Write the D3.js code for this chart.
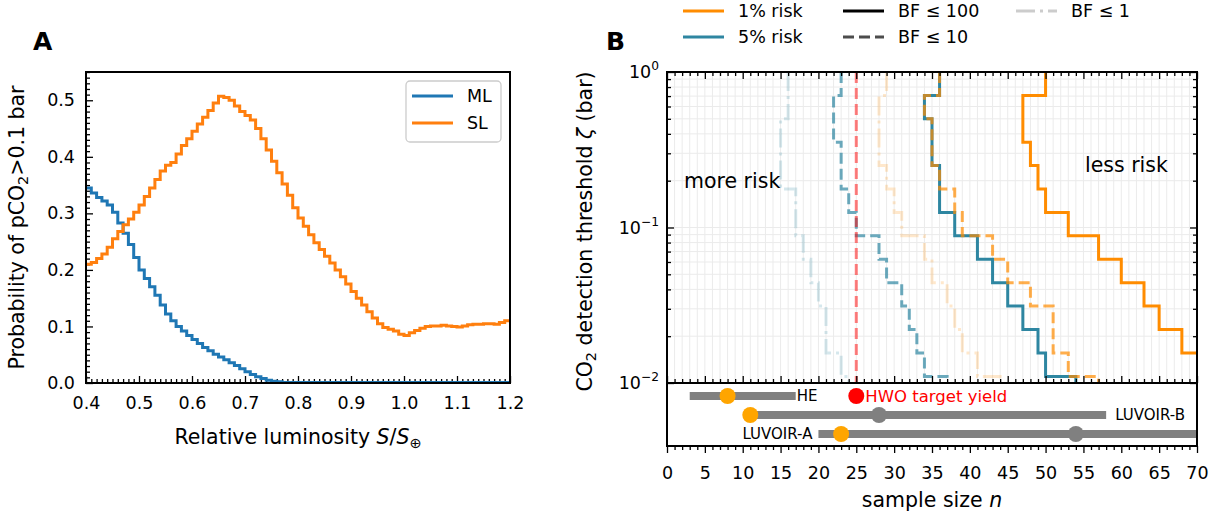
<!DOCTYPE html>
<html>
<head>
<meta charset="utf-8">
<script src="https://cdn.jsdelivr.net/npm/d3@7"></script>
<style>
  body { margin: 0; background: #fff; }
  svg { font-family: "DejaVu Sans", sans-serif; }
</style>
</head>
<body>
<svg id="chart" width="1223" height="522"></svg>
<script>
// ---------- panel A data (bins of 0.01 in S/S_earth, starting at 0.40) ----------
const lumStart = 0.40, lumStep = 0.01;
const probML = [
  0.345, 0.336, 0.328, 0.322, 0.315, 0.302, 0.283, 0.265, 0.245, 0.222,
  0.200, 0.185, 0.170, 0.155, 0.138, 0.122, 0.110, 0.100, 0.092, 0.084,
  0.077, 0.070, 0.063, 0.057, 0.051, 0.046, 0.041, 0.036, 0.031, 0.025,
  0.020, 0.015, 0.011, 0.008, 0.005, 0.003, 0.002, 0.001, 0.001, 0.001,
  0.001, 0.001, 0.001, 0.001, 0.001, 0.001, 0.001, 0.001, 0.001, 0.001,
  0.001, 0.001, 0.001, 0.001, 0.001, 0.001, 0.001, 0.001, 0.001, 0.001,
  0.001, 0.001, 0.001, 0.001, 0.001, 0.001, 0.001, 0.001, 0.001, 0.001,
  0.001, 0.001, 0.001, 0.001, 0.001, 0.001, 0.001, 0.001, 0.001, 0.001
];
const probSL = [
  0.210, 0.213, 0.220, 0.228, 0.240, 0.255, 0.268, 0.280, 0.290, 0.302,
  0.315, 0.330, 0.345, 0.360, 0.375, 0.385, 0.390, 0.405, 0.420, 0.432,
  0.445, 0.458, 0.470, 0.482, 0.495, 0.507, 0.505, 0.500, 0.490, 0.480,
  0.473, 0.465, 0.450, 0.432, 0.412, 0.392, 0.372, 0.352, 0.332, 0.310,
  0.292, 0.277, 0.262, 0.248, 0.236, 0.224, 0.212, 0.200, 0.188, 0.175,
  0.162, 0.150, 0.138, 0.126, 0.115, 0.105, 0.098, 0.095, 0.092, 0.086,
  0.084, 0.089, 0.093, 0.097, 0.100, 0.101, 0.101, 0.102, 0.101, 0.100,
  0.099, 0.101, 0.103, 0.104, 0.104, 0.105, 0.105, 0.104, 0.107, 0.110
];
const seriesA = [["ML", "#1f77b4", probML], ["SL", "#ff7f0e", probSL]];
const xTicksA = [0.4, 0.5, 0.6, 0.7, 0.8, 0.9, 1.0, 1.1, 1.2];
const yTicksA = [0.0, 0.1, 0.2, 0.3, 0.4, 0.5];

// ---------- panel B data ----------
const zetaLevels = [1.0, 0.707, 0.5, 0.354, 0.25, 0.177, 0.125, 0.0884, 0.0625, 0.0442, 0.0313, 0.0221, 0.0156, 0.011, 0.0078];
const nRisk1BF100 = [50, 47, 47, 48, 49, 50, 53, 57, 60, 63, 65, 68, 72, 75, 78];
const nRisk1BF10  = [36, 34, 35, 35, 36, 38, 39, 43, 45, 48, 51, 51, 53, 57, 60];
const nRisk1BF1   = [29, 28, 28, 28, 29, 30, 31, 34, 35, 37, 38, 39, 41, 44, 46];
const nRisk5BF100 = [36, 34, 35, 35, 36, 36, 38, 41, 43, 45, 47, 49, 50, 54, 58];
const nRisk5BF10  = [23, 22, 22, 23, 23, 24, 25, 28, 29, 31, 32, 33, 34, 37, 38];
const nRisk5BF1   = [16, 16, 15, 15, 15, 17, 17, 18, 19, 20, 21, 21, 23, 24, 25];
const hwoTarget = 25;

const missions = ["HE", "LUVOIR-B", "LUVOIR-A"];
const missionRange = [[3, 17], [11, 58], [20, 75]];
const missionOrange = [8, 11, 23];
const missionGray = [null, 28, 54];

const ORANGE = "#ff8c00", TEAL = "#2e86a1";
const styles = {
  solid:   { dash: null, opacity: 1 },
  dashed:  { dash: "11,5", opacity: 0.7 },
  dashdot: { dash: "19,5,3,5", opacity: 0.2 }
};
// drawing order: faint first, solid, then orange dashed on top
const curvesB = [
  [nRisk5BF1, TEAL, "dashdot"],
  [nRisk1BF1, ORANGE, "dashdot"],
  [nRisk5BF10, TEAL, "dashed"],
  [nRisk5BF100, TEAL, "solid"],
  [nRisk1BF100, ORANGE, "solid"],
  [nRisk1BF10, ORANGE, "dashed"]
];

const svg = d3.select("#chart");
const TICK = 17.5, LABEL = 20.5;

function cleanAxis(sel) {
  sel.select(".domain").remove();
  sel.selectAll(".tick line").attr("stroke-width", 1.3);
  sel.selectAll(".tick text").attr("font-size", TICK).attr("fill", "#000");
  sel.attr("font-family", null);
}

// ================= PANEL A =================
const A = { l: 86, r: 510, t: 72, b: 383 };
const xA = d3.scaleLinear().domain([0.4, 1.2]).range([A.l, A.r]);
const yA = d3.scaleLinear().domain([0, 0.55]).range([A.b, A.t]);
const gA = svg.append("g");

const minorA_x = d3.range(40, 121).filter(d => d % 10 !== 0).map(d => d / 100);
const minorA_y = d3.range(0, 56).filter(d => d % 10 !== 0).map(d => d / 100);

gA.append("g").attr("transform", `translate(0,${A.b})`)
  .call(d3.axisBottom(xA).tickValues(xTicksA).tickFormat(d3.format(".1f")).tickSize(-7).tickPadding(14))
  .call(cleanAxis);
gA.append("g").attr("transform", `translate(0,${A.b})`)
  .call(d3.axisBottom(xA).tickValues(minorA_x).tickFormat("").tickSize(-4))
  .call(cleanAxis);
gA.append("g").attr("transform", `translate(${A.l},0)`)
  .call(d3.axisLeft(yA).tickValues(yTicksA).tickFormat(d3.format(".1f")).tickSize(-7).tickPadding(11))
  .call(cleanAxis);
gA.append("g").attr("transform", `translate(${A.l},0)`)
  .call(d3.axisLeft(yA).tickValues(minorA_y).tickFormat("").tickSize(-4))
  .call(cleanAxis);

const lineA = d3.line().x(d => xA(d[0])).y(d => yA(d[1])).curve(d3.curveStepAfter);
seriesA.forEach(([name, color, vals]) => {
  const pts = vals.map((v, i) => [lumStart + i * lumStep, v]);
  pts.push([lumStart + vals.length * lumStep, vals[vals.length - 1]]);
  gA.append("path").datum(pts).attr("d", lineA)
    .attr("fill", "none").attr("stroke", color).attr("stroke-width", 3);
});

gA.append("rect").attr("x", A.l).attr("y", A.t).attr("width", A.r - A.l).attr("height", A.b - A.t)
  .attr("fill", "none").attr("stroke", "#000").attr("stroke-width", 2);

// legend A
const legA = gA.append("g").attr("transform", "translate(406,81)");
legA.append("rect").attr("width", 95).attr("height", 61).attr("rx", 4)
  .attr("fill", "#fff").attr("fill-opacity", 0.8).attr("stroke", "#ccc").attr("stroke-width", 1.3);
seriesA.forEach(([name, color], i) => {
  const y = 15 + i * 27;
  legA.append("line").attr("x1", 6).attr("x2", 47).attr("y1", y).attr("y2", y)
    .attr("stroke", color).attr("stroke-width", 3);
  legA.append("text").attr("x", 61).attr("y", y).attr("dy", "0.36em")
    .attr("font-size", TICK).text(name);
});

// labels A
const xlabA = gA.append("text").attr("x", (A.l + A.r) / 2).attr("y", 444)
  .attr("text-anchor", "middle").attr("font-size", LABEL);
xlabA.append("tspan").text("Relative luminosity ");
xlabA.append("tspan").attr("font-style", "italic").text("S");
xlabA.append("tspan").text("/");
xlabA.append("tspan").attr("font-style", "italic").text("S");
xlabA.append("tspan").attr("font-size", LABEL * 0.7).attr("dy", 4).text("⊕");

const ylabA = gA.append("text").attr("transform", `translate(24,${(A.t + A.b) / 2}) rotate(-90)`)
  .attr("text-anchor", "middle").attr("font-size", LABEL);
ylabA.append("tspan").text("Probability of pCO");
ylabA.append("tspan").attr("font-size", LABEL * 0.7).attr("dy", 4).text("2");
ylabA.append("tspan").attr("dy", -4).text(">0.1 bar");

svg.append("text").attr("x", 33).attr("y", 50).attr("font-size", 25).attr("font-weight", "bold").text("A");

// ================= PANEL B =================
const B = { l: 667, r: 1197, t: 72, b: 383, sb: 446 };
const xB = d3.scaleLinear().domain([0, 70]).range([B.l, B.r]);
const yB = d3.scaleLog().domain([0.01, 1]).range([B.b, B.t]);
const gB = svg.append("g");

svg.append("defs").append("clipPath").attr("id", "clipB")
  .append("rect").attr("x", B.l).attr("y", B.t).attr("width", B.r - B.l).attr("height", B.b - B.t);
svg.select("defs").append("clipPath").attr("id", "clipS")
  .append("rect").attr("x", B.l).attr("y", B.b).attr("width", B.r - B.l).attr("height", B.sb - B.b);

const xMajorB = d3.range(0, 71, 5);
const xMinorB = d3.range(0, 71, 1).filter(d => d % 5 !== 0);
const yMajorB = [0.01, 0.1, 1];
const yMinorB = [2, 3, 4, 5, 6, 7, 8, 9].flatMap(m => [m * 0.01, m * 0.1]);

// grid
const grid = gB.append("g").attr("stroke", "#ebebeb").attr("stroke-width", 1);
grid.selectAll("line.v").data(d3.range(1, 70)).join("line")
  .attr("x1", d => xB(d)).attr("x2", d => xB(d)).attr("y1", B.t).attr("y2", B.b);
grid.selectAll("line.h").data(yMinorB.concat([0.1])).join("line")
  .attr("x1", B.l).attr("x2", B.r).attr("y1", d => yB(d)).attr("y2", d => yB(d));

// curves
const lineB = d3.line().x(d => xB(d[0])).y(d => yB(d[1])).curve(d3.curveStepBefore);
const gCurves = gB.append("g").attr("clip-path", "url(#clipB)");
curvesB.forEach(([vals, color, kind]) => {
  const st = styles[kind];
  gCurves.append("path").datum(vals.map((n, i) => [n, zetaLevels[i]])).attr("d", lineB)
    .attr("fill", "none").attr("stroke", color).attr("stroke-width", 3)
    .attr("stroke-opacity", st.opacity).attr("stroke-dasharray", st.dash);
});
gCurves.append("line").attr("x1", xB(hwoTarget)).attr("x2", xB(hwoTarget)).attr("y1", B.t).attr("y2", B.b)
  .attr("stroke", "red").attr("stroke-opacity", 0.5).attr("stroke-width", 3).attr("stroke-dasharray", "11,5");

// annotations
gB.append("text").attr("x", 684).attr("y", 188).attr("font-size", LABEL).text("more risk");
gB.append("text").attr("x", 1085).attr("y", 172).attr("font-size", LABEL).text("less risk");

// axes main panel B (ticks pointing inward on all sides)
[B.b, B.t].forEach(y => {
  const fn = y === B.b ? d3.axisBottom : d3.axisTop;
  gB.append("g").attr("transform", `translate(0,${y})`)
    .call(fn(xB).tickValues(xMajorB).tickFormat("").tickSize(-7)).call(cleanAxis);
  gB.append("g").attr("transform", `translate(0,${y})`)
    .call(fn(xB).tickValues(xMinorB).tickFormat("").tickSize(-4)).call(cleanAxis);
});
gB.append("g").attr("transform", `translate(${B.l},0)`)
  .call(d3.axisLeft(yB).tickValues(yMajorB).tickFormat("").tickSize(-7)).call(cleanAxis);
gB.append("g").attr("transform", `translate(${B.l},0)`)
  .call(d3.axisLeft(yB).tickValues(yMinorB).tickFormat("").tickSize(-4)).call(cleanAxis);
gB.append("g").attr("transform", `translate(${B.r},0)`)
  .call(d3.axisRight(yB).tickValues(yMajorB).tickFormat("").tickSize(-7)).call(cleanAxis);
gB.append("g").attr("transform", `translate(${B.r},0)`)
  .call(d3.axisRight(yB).tickValues(yMinorB).tickFormat("").tickSize(-4)).call(cleanAxis);

// log tick labels
const yExp = ["−2", "−1", "0"];
yMajorB.forEach((v, i) => {
  const t = gB.append("text").attr("x", B.l - 8).attr("y", yB(v) + 6)
    .attr("text-anchor", "end").attr("font-size", TICK);
  t.append("tspan").text("10");
  t.append("tspan").attr("font-size", TICK * 0.7).attr("dy", -8).text(yExp[i]);
});

gB.append("rect").attr("x", B.l).attr("y", B.t).attr("width", B.r - B.l).attr("height", B.b - B.t)
  .attr("fill", "none").attr("stroke", "#000").attr("stroke-width", 2);

// ---------- strip below ----------
const yS = d3.scalePoint().domain(missions).range([396, 434]);
const gS = gB.append("g");
const gSc = gS.append("g").attr("clip-path", "url(#clipS)");
missions.forEach((m, i) => {
  const y = yS(m);
  gSc.append("line").attr("x1", xB(missionRange[i][0])).attr("x2", xB(missionRange[i][1]))
    .attr("y1", y).attr("y2", y).attr("stroke", "#808080").attr("stroke-width", 8);
  if (missionGray[i] !== null)
    gSc.append("circle").attr("cx", xB(missionGray[i])).attr("cy", y).attr("r", 8).attr("fill", "#808080");
  gSc.append("circle").attr("cx", xB(missionOrange[i])).attr("cy", y).attr("r", 8).attr("fill", "orange");
});
gS.append("text").attr("x", xB(missionRange[0][1]) + 1).attr("y", yS("HE")).attr("dy", "0.36em")
  .attr("font-size", 15).text("HE");
gS.append("text").attr("x", xB(missionRange[1][1]) + 9).attr("y", yS("LUVOIR-B")).attr("dy", "0.36em")
  .attr("font-size", 15).text("LUVOIR-B");
gS.append("text").attr("x", xB(missionRange[2][0]) - 6).attr("y", yS("LUVOIR-A")).attr("dy", "0.36em")
  .attr("text-anchor", "end").attr("font-size", 15).text("LUVOIR-A");
gS.append("circle").attr("cx", xB(hwoTarget)).attr("cy", yS("HE")).attr("r", 8).attr("fill", "red");
gS.append("text").attr("x", xB(hwoTarget) + 9).attr("y", yS("HE")).attr("dy", "0.36em")
  .attr("font-size", 16.5).attr("fill", "red").text("HWO target yield");

gS.append("g").attr("transform", `translate(0,${B.sb})`)
  .call(d3.axisBottom(xB).tickValues(xMajorB).tickSize(7).tickPadding(14)).call(cleanAxis);
gS.append("g").attr("transform", `translate(0,${B.sb})`)
  .call(d3.axisBottom(xB).tickValues(xMinorB).tickFormat("").tickSize(4)).call(cleanAxis);
gS.append("rect").attr("x", B.l).attr("y", B.b).attr("width", B.r - B.l).attr("height", B.sb - B.b)
  .attr("fill", "none").attr("stroke", "#000").attr("stroke-width", 2);

// labels B
const xlabB = gB.append("text").attr("x", (B.l + B.r) / 2).attr("y", 507)
  .attr("text-anchor", "middle").attr("font-size", LABEL);
xlabB.append("tspan").text("sample size ");
xlabB.append("tspan").attr("font-style", "italic").text("n");

const ylabB = gB.append("text").attr("transform", `translate(592,${(B.t + B.b) / 2 + 4}) rotate(-90)`)
  .attr("text-anchor", "middle").attr("font-size", LABEL);
ylabB.append("tspan").text("CO");
ylabB.append("tspan").attr("font-size", LABEL * 0.7).attr("dy", 4).text("2");
ylabB.append("tspan").attr("dy", -4).text(" detection threshold ");
ylabB.append("tspan").attr("font-style", "italic").text("ζ");
ylabB.append("tspan").text(" (bar)");

svg.append("text").attr("x", 606).attr("y", 50).attr("font-size", 25).attr("font-weight", "bold").text("B");

// legend B (three columns, filled column-wise)
const legendEntries = [
  ["1% risk", ORANGE, "solid", 683, 11],
  ["5% risk", TEAL, "solid", 683, 37],
  ["BF ≤ 100", "#000", "solid", 843, 11],
  ["BF ≤ 10", "#000", "dashed", 843, 37],
  ["BF ≤ 1", "#000", "dashdot", 1016, 11]
];
const legB = svg.append("g");
legendEntries.forEach(([label, color, kind, x, y]) => {
  const st = styles[kind];
  legB.append("line").attr("x1", x).attr("x2", x + 41).attr("y1", y).attr("y2", y)
    .attr("stroke", color).attr("stroke-width", 3)
    .attr("stroke-opacity", st.opacity).attr("stroke-dasharray", st.dash);
  legB.append("text").attr("x", x + 55).attr("y", y).attr("dy", "0.36em")
    .attr("font-size", TICK).text(label);
});
</script>
</body>
</html>
